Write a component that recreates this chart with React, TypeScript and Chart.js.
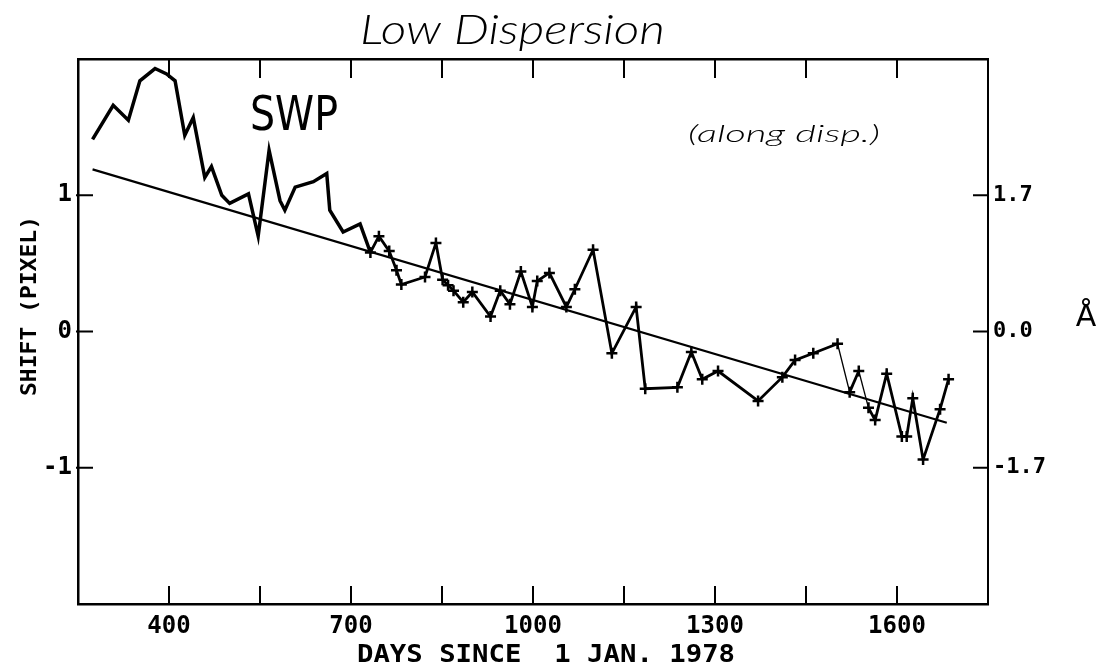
import { useEffect, useRef } from 'react';
import { Chart, registerables } from 'chart.js';

Chart.register(...registerables);

// ---- data (days since 1 Jan 1978, shift in pixels) ----
const DAYS = [
  274, 308, 333, 352, 377, 396, 410, 426, 440, 459,
  470, 487, 500, 531, 547, 565, 583, 591, 608, 638,
  660, 665, 687, 715, 732, 746, 763, 775, 783, 822,
  840, 851, 860, 869, 885, 900, 930, 946, 962, 980,
  999, 1007, 1027, 1055, 1069, 1099, 1130, 1170, 1185, 1238,
  1261, 1279, 1305, 1371, 1411, 1432, 1462, 1502, 1522, 1537,
  1553, 1564, 1583, 1608, 1616, 1626, 1643, 1671, 1685,
];
const SHIFT = [
  1.41, 1.66, 1.55, 1.84, 1.93, 1.89, 1.84, 1.44, 1.57, 1.13,
  1.21, 1.0, 0.94, 1.01, 0.7, 1.33, 0.96, 0.89, 1.06, 1.1,
  1.16, 0.89, 0.73, 0.79, 0.58, 0.7, 0.59, 0.45, 0.345, 0.4,
  0.65, 0.38, 0.34, 0.3, 0.215, 0.29, 0.11, 0.3, 0.2, 0.44,
  0.18, 0.37, 0.43, 0.18, 0.31, 0.6, -0.16, 0.18, -0.42, -0.41,
  -0.15, -0.35, -0.29, -0.51, -0.335, -0.21, -0.16, -0.09, -0.445, -0.29,
  -0.56, -0.65, -0.31, -0.77, -0.77, -0.49, -0.94, -0.57, -0.35,
];
const FIT_DAYS = [274, 1682];
const FIT_SHIFT = [1.19, -0.67];

const X_MIN = 250;
const X_MAX = 1750;
const X_STEP = 150;
const X_LABELED = [400, 700, 1000, 1300, 1600];
const Y_MIN = -2;
const Y_MAX = 2;
const Y_TICKS = [-1, 0, 1];
const Y_LABELS = ['-1', '0', '1'];
const ANGSTROM_LABELS = ['-1.7', '0.0', '1.7'];
const MARKER_FROM_DAY = 732;
const THIN_SEGMENT_STARTS = [1502, 1537];

const TITLE = 'Low Dispersion';
const INSTRUMENT = 'SWP';
const NOTE = '(along disp.)';
const X_TITLE = 'DAYS SINCE  1 JAN. 1978';
const Y_TITLE = 'SHIFT (PIXEL)';
const Y2_TITLE = 'Å';

const MONO = '"DejaVu Sans Mono", monospace';

const inwardTicks = {
  id: 'inwardTicks',
  afterDraw(chart: any) {
    const { ctx, chartArea: a, scales } = chart;
    ctx.save();
    ctx.strokeStyle = '#000';
    ctx.lineWidth = 2;
    ctx.beginPath();
    scales.x.ticks.forEach((t: any) => {
      if (t.value <= X_MIN || t.value >= X_MAX) return;
      const p = scales.x.getPixelForValue(t.value);
      ctx.moveTo(p, a.bottom);
      ctx.lineTo(p, a.bottom - 18);
    });
    scales.x2.ticks.forEach((t: any) => {
      if (t.value <= X_MIN || t.value >= X_MAX) return;
      const p = scales.x2.getPixelForValue(t.value);
      ctx.moveTo(p, a.top);
      ctx.lineTo(p, a.top + 19);
    });
    scales.y.ticks.forEach((t: any) => {
      const p = scales.y.getPixelForValue(t.value);
      ctx.moveTo(a.left - 2, p);
      ctx.lineTo(a.left + 15, p);
    });
    scales.y2.ticks.forEach((t: any) => {
      const p = scales.y2.getPixelForValue(t.value);
      ctx.moveTo(a.right, p);
      ctx.lineTo(a.right - 15, p);
    });
    ctx.stroke();
    ctx.restore();
  },
};

function fitText(ctx: CanvasRenderingContext2D, text: string, x: number, y: number, width: number) {
  const w = ctx.measureText(text).width;
  ctx.save();
  ctx.translate(x, y);
  ctx.scale(width / w, 1);
  ctx.fillText(text, 0, 0);
  ctx.restore();
}

const annotations = {
  id: 'annotations',
  afterDraw(chart: any) {
    const ctx: CanvasRenderingContext2D = chart.ctx;
    ctx.save();
    ctx.fillStyle = '#000';
    ctx.textBaseline = 'alphabetic';
    ctx.textAlign = 'left';

    ctx.font = 'italic 300 42px Lato';
    fitText(ctx, TITLE, 360, 44, 305);

    ctx.font = '48px "DejaVu Sans"';
    fitText(ctx, INSTRUMENT, 250, 130, 88);

    ctx.font = 'italic 300 24px Lato';
    fitText(ctx, NOTE, 688, 142, 192);

    ctx.font = `bold 24px ${MONO}`;
    fitText(ctx, X_TITLE, 357, 662, 378);

    ctx.save();
    ctx.translate(36, 396);
    ctx.rotate(-Math.PI / 2);
    ctx.font = `bold 22px ${MONO}`;
    fitText(ctx, Y_TITLE, 0, 0, 180);
    ctx.restore();

    ctx.font = '30px "DejaVu Sans"';
    ctx.textAlign = 'center';
    ctx.fillText(Y2_TITLE, 1086, 326);
    ctx.restore();
  },
};

export default function App() {
  const ref = useRef<HTMLCanvasElement | null>(null);

  useEffect(() => {
    if (!ref.current) return;
    const points = DAYS.map((d, i) => ({ x: d, y: SHIFT[i] }));
    const fit = FIT_DAYS.map((d, i) => ({ x: d, y: FIT_SHIFT[i] }));
    const tickFont = { family: MONO, weight: 'bold' as const, size: 24 };

    const chart = new Chart(ref.current, {
      type: 'line',
      data: {
        datasets: [
          {
            data: points,
            borderColor: '#000',
            backgroundColor: '#000',
            borderWidth: 3,
            pointStyle: 'cross',
            pointRadius: (c: any) => (c.raw && c.raw.x >= MARKER_FROM_DAY ? 5.5 : 0),
            pointBorderWidth: 2.5,
            pointBorderColor: '#000',
            tension: 0,
            segment: {
              borderWidth: (c: any) => {
                const x0 = c.p0.parsed.x;
                if (THIN_SEGMENT_STARTS.includes(x0)) return 1.3;
                return x0 < MARKER_FROM_DAY ? 3.5 : 2.8;
              },
            },
          },
          {
            data: fit,
            borderColor: '#000',
            borderWidth: 2.2,
            pointRadius: 0,
            tension: 0,
          },
        ],
      },
      options: {
        animation: false,
        responsive: true,
        maintainAspectRatio: false,
        layout: { padding: { top: 59, left: 0, right: 0, bottom: 0 } },
        plugins: { legend: { display: false }, tooltip: { enabled: false } },
        scales: {
          x: {
            type: 'linear',
            position: 'bottom',
            min: X_MIN,
            max: X_MAX,
            ticks: {
              stepSize: X_STEP,
              autoSkip: false,
              maxRotation: 0,
              padding: 8,
              color: '#000',
              font: tickFont,
              callback: (v: any) => (X_LABELED.includes(Number(v)) ? String(v) : ''),
            },
            grid: { display: false, drawTicks: false },
            border: { display: true, color: '#000', width: 2.5 },
            afterFit: (s: any) => { s.height = 65; },
          },
          x2: {
            type: 'linear',
            position: 'top',
            min: X_MIN,
            max: X_MAX,
            ticks: { stepSize: X_STEP, display: false },
            grid: { display: false, drawTicks: false },
            border: { display: true, color: '#000', width: 2.5 },
            afterFit: (s: any) => { s.height = 0; },
          },
          y: {
            type: 'linear',
            position: 'left',
            min: Y_MIN,
            max: Y_MAX,
            afterBuildTicks: (s: any) => { s.ticks = Y_TICKS.map((v) => ({ value: v })); },
            ticks: {
              padding: 6,
              color: '#000',
              font: tickFont,
              callback: (v: any) => Y_LABELS[Y_TICKS.indexOf(Number(v))] ?? '',
            },
            grid: { display: false, drawTicks: false },
            border: { display: true, color: '#000', width: 2.5 },
            afterFit: (s: any) => { s.width = 78; },
          },
          y2: {
            type: 'linear',
            position: 'right',
            min: Y_MIN,
            max: Y_MAX,
            afterBuildTicks: (s: any) => { s.ticks = Y_TICKS.map((v) => ({ value: v })); },
            ticks: {
              padding: 5,
              color: '#000',
              font: { family: MONO, weight: 'bold' as const, size: 22 },
              callback: (v: any) => ANGSTROM_LABELS[Y_TICKS.indexOf(Number(v))] ?? '',
            },
            grid: { display: false, drawTicks: false },
            border: { display: true, color: '#000', width: 2 },
            afterFit: (s: any) => { s.width = 118; },
          },
        },
      },
      plugins: [inwardTicks, annotations],
    });
    return () => chart.destroy();
  }, []);

  return (
    <div style={{ position: 'fixed', left: 0, top: 0, width: 1106, height: 669, background: '#fff' }}>
      <canvas ref={ref} />
    </div>
  );
}
